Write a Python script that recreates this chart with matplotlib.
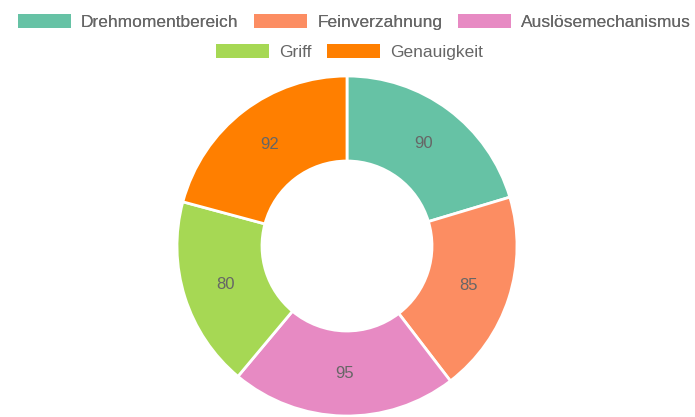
import matplotlib

matplotlib.use("Agg")
import matplotlib.pyplot as plt
from matplotlib.patches import Patch

plt.rcParams["font.family"] = ["Liberation Sans", "DejaVu Sans"]

categories = ["Drehmomentbereich", "Feinverzahnung", "Auslösemechanismus", "Griff", "Genauigkeit"]
values = [90, 85, 95, 80, 92]
colors = ["#66c2a5", "#fc8d62", "#e78ac3", "#a6d854", "#ff7f00"]
text_color = "#666666"

fig = plt.figure(figsize=(6.95, 4.17), dpi=100)
ax = fig.add_axes([(347 - 170) / 695, (417 - 246 - 170) / 417, 340 / 695, 340 / 417])

total = sum(values)
wedges, texts, autotexts = ax.pie(
    values,
    colors=colors,
    startangle=90,
    counterclock=False,
    radius=1.0,
    wedgeprops=dict(width=0.5, edgecolor="white", linewidth=2),
    autopct=lambda p: f"{round(p * total / 100)}",
    pctdistance=0.75,
    textprops=dict(color=text_color, fontsize=12),
)
ax.set_xlim(-1.0, 1.0)
ax.set_ylim(-1.0, 1.0)
ax.set_aspect("equal")
ax.axis("off")

handles = [Patch(facecolor=c, edgecolor="none") for c in colors]
common = dict(frameon=False, fontsize=12.5, handlelength=3.05, handleheight=0.8,
              handletextpad=0.58, columnspacing=0.92, labelcolor=text_color,
              borderaxespad=0, borderpad=0)
leg1 = fig.legend(handles[:3], categories[:3], ncol=3, loc="center",
                  bbox_to_anchor=(0.51, 0.947), **common)
fig.add_artist(leg1)
fig.legend(handles[3:], categories[3:], ncol=2, loc="center",
           bbox_to_anchor=(0.503, 0.875), **common)

fig.savefig("out.png", dpi=100)
